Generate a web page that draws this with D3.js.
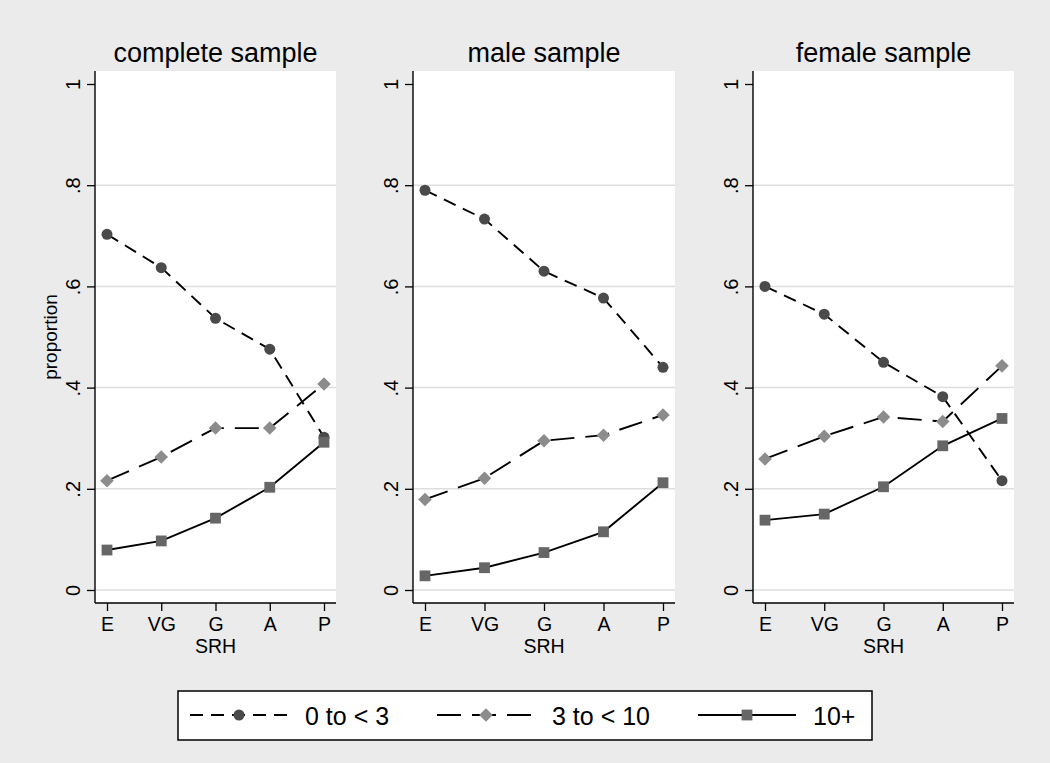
<!DOCTYPE html>
<html>
<head>
<meta charset="utf-8">
<script src="https://cdn.jsdelivr.net/npm/d3@7"></script>
<style>
  body { margin: 0; background: #ebebeb; }
  svg { display: block; font-family: "Liberation Sans", Arial, Helvetica, sans-serif; }
</style>
</head>
<body>
<script>
// categories and panels
var categories = ["E", "VG", "G", "A", "P"];
var panelTitles = ["complete sample", "male sample", "female sample"];
var seriesNames = ["0 to < 3", "3 to < 10", "10+"];
var yTicks = [0, 0.2, 0.4, 0.6, 0.8, 1];
var yTickLabels = ["0", ".2", ".4", ".6", ".8", "1"];

// values, one array per panel
var low = [
  [0.703, 0.637, 0.537, 0.476, 0.302],
  [0.790, 0.733, 0.630, 0.577, 0.440],
  [0.600, 0.545, 0.450, 0.382, 0.216]
];
var mid = [
  [0.216, 0.263, 0.320, 0.320, 0.407],
  [0.179, 0.221, 0.295, 0.306, 0.346],
  [0.259, 0.304, 0.342, 0.333, 0.443]
];
var high = [
  [0.079, 0.097, 0.142, 0.203, 0.292],
  [0.028, 0.044, 0.074, 0.115, 0.212],
  [0.138, 0.150, 0.204, 0.285, 0.339]
];

var W = 1050, H = 763;
var plotTop = 71, plotBottom = 603;
var panelX = [[95, 336], [413, 675], [753, 1014]];

var styles = [
  {dash: "13,8", marker: "circle", fill: "#4a4a4a"},
  {dash: "24,11", marker: "diamond", fill: "#8c8c8c"},
  {dash: null, marker: "square", fill: "#666666"}
];

var symbols = {
  circle: d3.symbol().type(d3.symbolCircle).size(Math.PI * 5.5 * 5.5),
  diamond: d3.symbol().type(d3.symbolSquare).size(9.6 * 9.6),
  square: d3.symbol().type(d3.symbolSquare).size(10.8 * 10.8)
};

var svg = d3.select("body").append("svg")
    .attr("width", W)
    .attr("height", H);

svg.append("rect").attr("width", W).attr("height", H).attr("fill", "#ebebeb");

var y = d3.scaleLinear().domain([0, 1]).range([590, 84]);

function drawMarker(g, type, px, py, fill) {
  var p = g.append("path")
      .attr("d", symbols[type]())
      .attr("fill", fill);
  if (type === "diamond") p.attr("transform", "translate(" + px + "," + py + ") rotate(45)");
  else p.attr("transform", "translate(" + px + "," + py + ")");
}

panelTitles.forEach(function(title, pi) {
  var x0 = panelX[pi][0], x1 = panelX[pi][1];
  var x = d3.scalePoint().domain(categories).range([x0 + 12, x1 - 12]);
  var g = svg.append("g");

  // plot region
  g.append("rect")
      .attr("x", x0).attr("y", plotTop)
      .attr("width", x1 - x0).attr("height", plotBottom - plotTop)
      .attr("fill", "#ffffff");

  // gridlines
  g.selectAll(".grid")
      .data(yTicks.slice(0, 5))
      .enter().append("line")
      .attr("x1", x0).attr("x2", x1)
      .attr("y1", function(d) { return y(d); })
      .attr("y2", function(d) { return y(d); })
      .attr("stroke", "#dedede")
      .attr("stroke-width", 1.5);

  // y axis
  var yAxis = d3.axisLeft(y)
      .tickValues(yTicks)
      .tickFormat(function(d, i) { return yTickLabels[i]; })
      .tickSize(8)
      .tickSizeOuter(0);
  var ya = g.append("g")
      .attr("transform", "translate(" + x0 + ",0)")
      .call(yAxis);
  ya.select(".domain").remove();
  ya.selectAll(".tick line").attr("stroke", "#000").attr("stroke-width", 1.3);
  ya.selectAll(".tick text")
      .attr("x", null).attr("dy", null)
      .attr("transform", "translate(-15,0) rotate(-90)")
      .attr("text-anchor", "middle")
      .attr("fill", "#000")
      .style("font-size", "20px")
      .style("font-family", "inherit");

  // x axis
  var xAxis = d3.axisBottom(x).tickSize(8).tickSizeOuter(0);
  var xa = g.append("g")
      .attr("transform", "translate(0," + plotBottom + ")")
      .call(xAxis);
  xa.select(".domain").remove();
  xa.selectAll(".tick line").attr("stroke", "#000").attr("stroke-width", 1.3);
  xa.selectAll(".tick text")
      .attr("y", 28).attr("dy", null)
      .attr("fill", "#000")
      .style("font-size", "19.5px")
      .style("font-family", "inherit");

  // axis lines
  g.append("line")
      .attr("x1", x0).attr("x2", x0).attr("y1", plotTop).attr("y2", plotBottom)
      .attr("stroke", "#000").attr("stroke-width", 1.4);
  g.append("line")
      .attr("x1", x0).attr("x2", x1).attr("y1", plotBottom).attr("y2", plotBottom)
      .attr("stroke", "#000").attr("stroke-width", 1.4);

  // axis titles
  g.append("text")
      .attr("x", (x0 + x1) / 2).attr("y", 653)
      .attr("text-anchor", "middle")
      .style("font-size", "19.5px")
      .text("SRH");
  if (pi === 0) {
    g.append("text")
        .attr("transform", "translate(57," + y(0.5) + ") rotate(-90)")
        .attr("text-anchor", "middle")
        .style("font-size", "19px")
        .text("proportion");
  }

  // title
  g.append("text")
      .attr("x", (x0 + x1) / 2).attr("y", 62)
      .attr("text-anchor", "middle")
      .style("font-size", "27px")
      .text(title);

  // series
  [low[pi], mid[pi], high[pi]].forEach(function(vals, si) {
    var st = styles[si];
    var line = d3.line()
        .x(function(d, i) { return x(categories[i]); })
        .y(function(d) { return y(d); });
    g.append("path")
        .datum(vals)
        .attr("d", line)
        .attr("fill", "none")
        .attr("stroke", "#000")
        .attr("stroke-width", 1.9)
        .attr("stroke-dasharray", st.dash);
    vals.forEach(function(v, i) {
      drawMarker(g, st.marker, x(categories[i]), y(v), st.fill);
    });
  });
});

// legend
var legend = svg.append("g");
legend.append("rect")
    .attr("x", 178).attr("y", 691)
    .attr("width", 694).attr("height", 49)
    .attr("fill", "#fff")
    .attr("stroke", "#000")
    .attr("stroke-width", 1.5);

var legendStart = [190, 437, 698];
seriesNames.forEach(function(name, si) {
  var st = styles[si];
  var lx = legendStart[si], ly = 715;
  legend.append("line")
      .attr("x1", lx).attr("x2", lx + 98)
      .attr("y1", ly).attr("y2", ly)
      .attr("stroke", "#000")
      .attr("stroke-width", 1.9)
      .attr("stroke-dasharray", st.dash);
  drawMarker(legend, st.marker, lx + 49, ly, st.fill);
  legend.append("text")
      .attr("x", lx + 115).attr("y", 725)
      .style("font-size", "25px")
      .text(name);
});
</script>
</body>
</html>
